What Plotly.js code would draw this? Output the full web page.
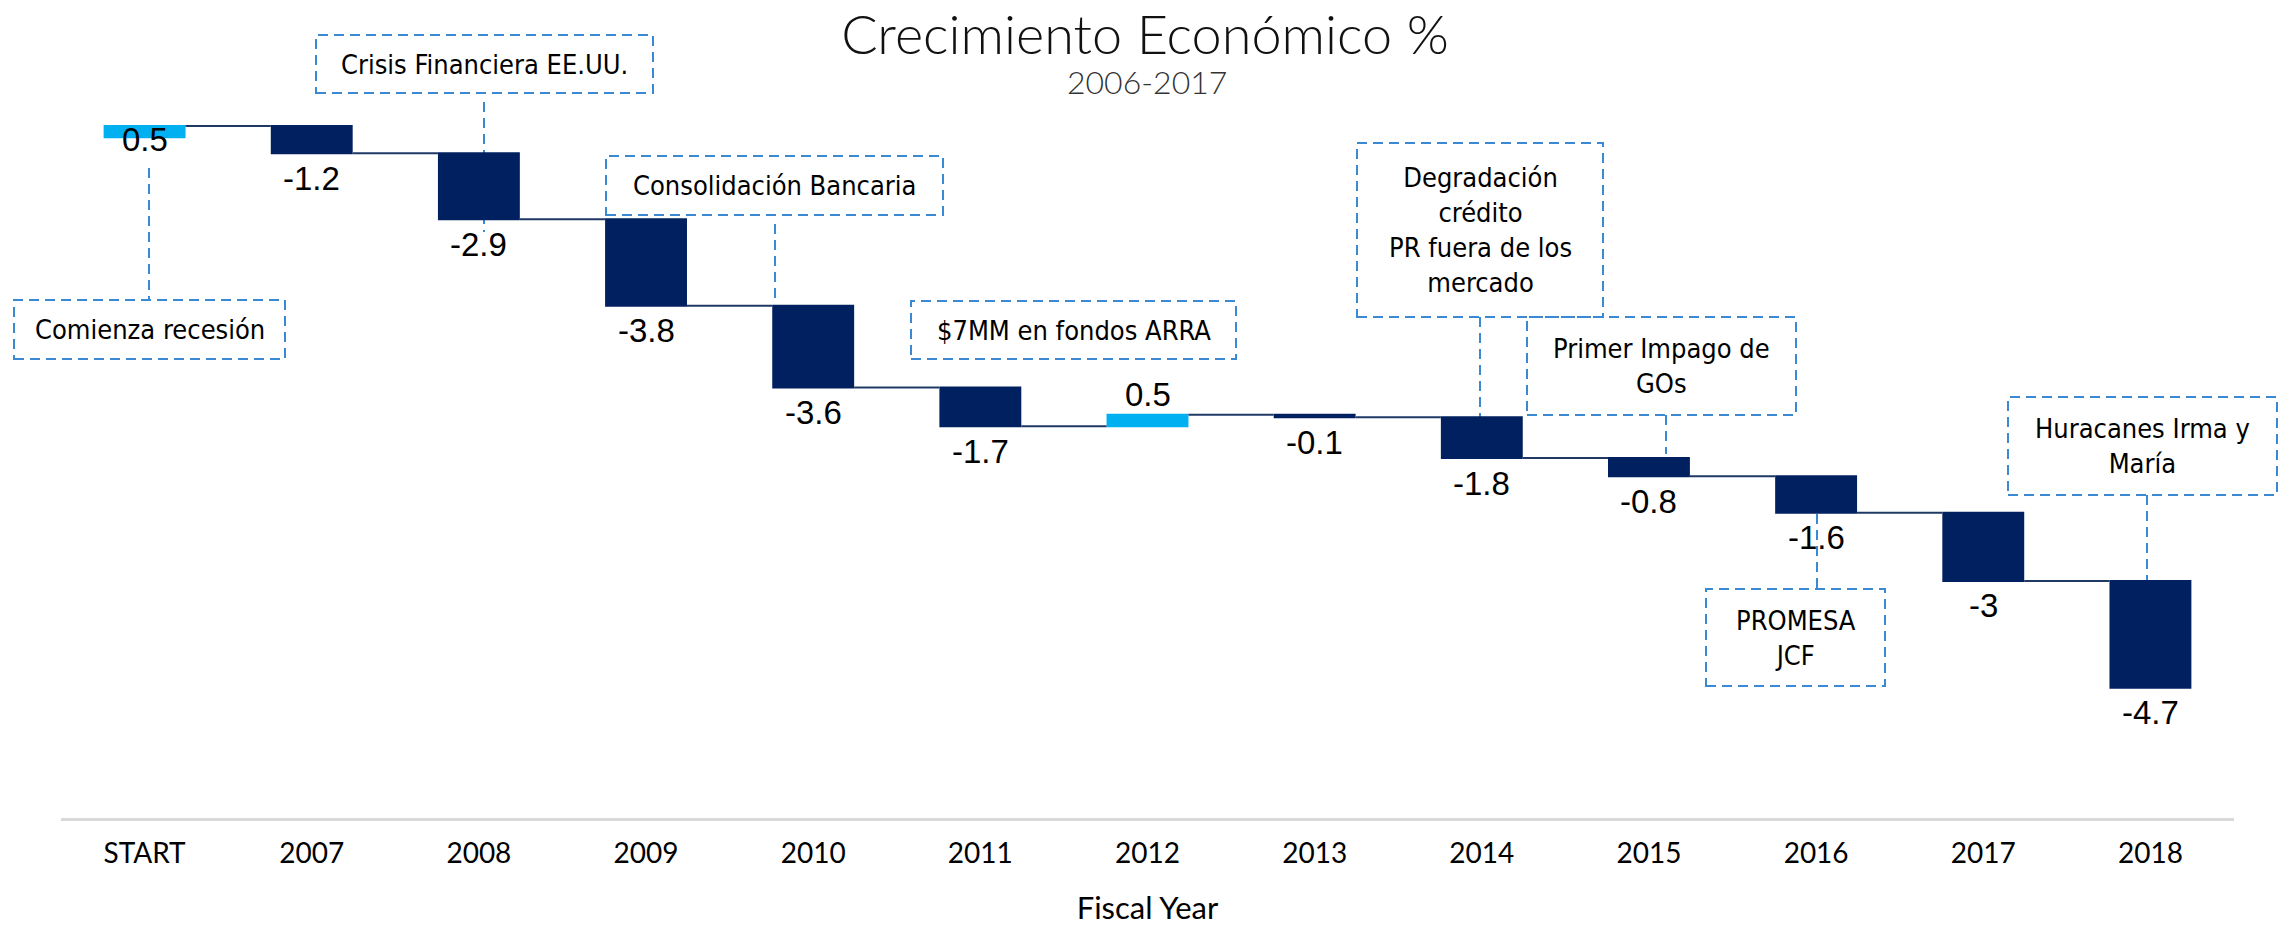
<!DOCTYPE html>
<html>
<head>
<meta charset="utf-8">
<script src="https://cdn.plot.ly/plotly-3.0.1.min.js"></script>
<style>html,body{margin:0;padding:0;background:#fff;}</style>
</head>
<body>
<div id="chart" style="width:2290px;height:926px;"></div>
<script>
// ---- data ----
const categories = ["START","2007","2008","2009","2010","2011","2012","2013","2014","2015","2016","2017","2018"];
const growth = [0.5,-1.2,-2.9,-3.8,-3.6,-1.7,0.5,-0.1,-1.8,-0.8,-1.6,-3,-4.7];
const growthLabels = ["0.5","-1.2","-2.9","-3.8","-3.6","-1.7","0.5","-0.1","-1.8","-0.8","-1.6","-3","-4.7"];
const titleText = "Crecimiento Económico %";
const subtitleText = "2006-2017";
const xTitleText = "Fiscal Year";
const eventNotes = [
  "Comienza recesión",
  "Crisis Financiera EE.UU.",
  "Consolidación Bancaria",
  "$7MM en fondos ARRA",
  "Degradación<br>crédito<br>PR fuera de los<br>mercado",
  "Primer Impago de<br>GOs",
  "PROMESA<br>JCF",
  "Huracanes Irma y<br>María"
];

// ---- layout geometry (pixels) ----
const W = 2290, H = 926;
const M = {l:61, r:56, t:100, b:108};
const PW = W - M.l - M.r, PH = H - M.t - M.b;
const px = x => (x - M.l) / PW;
const py = y => (H - M.b - y) / PH;

const noteFont = {family:"DejaVu Sans Condensed, DejaVu Sans, sans-serif", size:27, color:"#000", stretch:"condensed"};
const labelFont = {family:"Liberation Sans, Arial, sans-serif", size:33, color:"#000"};
const dashCol = "#3a8ad3";
const dash = "10px,6px";

// boxes: [x0,y0,x1,y1] in page pixels
const boxes = [
  [14,300,285,359],
  [316,35,653,93],
  [606,156,943,215],
  [911,301,1236,359],
  [1357,143,1603,317],
  [1527,317,1796,415],
  [1706,589,1885,686],
  [2008,397,2277,495]
];
// leader lines: [x, y0, y1]
const leaders = [
  [149,168,300],
  [484,102,232],
  [775,224,304],
  [1480,317,418],
  [1666,415,454],
  [1817,514,589],
  [2147,495,580]
];

const shapes = [];
boxes.forEach(b => shapes.push({type:"rect", xref:"paper", yref:"paper", x0:px(b[0]), x1:px(b[2]), y0:py(b[3]), y1:py(b[1]),
  line:{color:dashCol, width:2, dash:dash}, fillcolor:"rgba(255,255,255,0)", layer:"above"}));
leaders.forEach(l => shapes.push({type:"line", xref:"paper", yref:"paper", x0:px(l[0]), x1:px(l[0]), y0:py(l[1]), y1:py(l[2]),
  line:{color:dashCol, width:2, dash:dash}, layer:"below"}));

const annotations = boxes.map((b,i) => ({
  xref:"paper", yref:"paper", x:px((b[0]+b[2])/2), y:py((b[1]+b[3])/2),
  xanchor:"center", yanchor:"middle", showarrow:false, text:eventNotes[i], font:noteFont, align:"center"
}));
annotations.push({xref:"paper", yref:"paper", x:px(1147), y:py(82), xanchor:"center", yanchor:"middle", showarrow:false,
  text:subtitleText, font:{family:"Lato, sans-serif", size:32, color:"#333", weight:300}});

// value labels placed at each bar's end, computed from the data (x = category index)
let running = 0;
growth.forEach((v,i) => {
  const start = running, end = running + v;
  running = end;
  let y, shift;
  if (i === 0) { y = (start + end) / 2; shift = -8; }
  else if (v < 0) { y = end; shift = -25; }
  else { y = end; shift = 20; }
  annotations.push({xref:"x", yref:"y", x:i, y:y, yshift:shift, xanchor:"center", yanchor:"middle",
    showarrow:false, text:growthLabels[i], font:labelFont});
});

const trace = {
  type:"waterfall",
  x: categories,
  y: growth,
  measure: categories.map(() => "relative"),
  textinfo: "none",
  increasing: {marker:{color:"#00B0F0"}},
  decreasing: {marker:{color:"#002060"}},
  connector: {mode:"between", line:{color:"#1F3864", width:2}},
  width: 0.49,
  hoverinfo: "skip"
};

const layout = {
  width: W, height: H,
  margin: M,
  paper_bgcolor: "#fff", plot_bgcolor: "#fff",
  showlegend: false,
  title: {text: titleText, font:{family:"Lato, sans-serif", size:54, color:"#111", weight:300}, x:0.5, xref:"container", y:1-35/H, yref:"container", yanchor:"middle"},
  xaxis: {
    type:"category", range:[-0.5,12.5], showline:true, linecolor:"#d9d9d9", linewidth:3,
    showgrid:false, zeroline:false, ticks:"", ticklabelstandoff:8,
    tickfont:{family:"Lato, sans-serif", size:28, color:"#000"},
    title:{text:xTitleText, font:{family:"Lato, sans-serif", size:31, color:"#000"}, standoff:30},
    fixedrange:true
  },
  yaxis: {range:[-29.92,1.64], visible:false, fixedrange:true},
  shapes: shapes,
  annotations: annotations
};

Plotly.newPlot("chart", [trace], layout, {displayModeBar:false, staticPlot:true});
</script>
</body>
</html>
